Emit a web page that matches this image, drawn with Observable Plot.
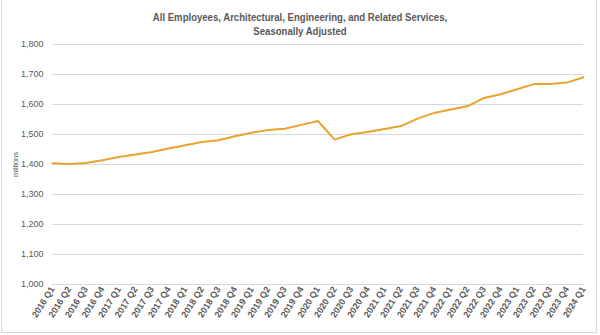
<!DOCTYPE html>
<html><head><meta charset="utf-8">
<script src="https://cdn.jsdelivr.net/npm/d3@7"></script>
<script src="https://cdn.jsdelivr.net/npm/@observablehq/plot@0.6"></script>
<style>
body{margin:0;background:#fff;}
#wrap{position:relative;width:600px;height:335px;overflow:hidden;background:#fff;}
#frame{position:absolute;left:1px;top:-1px;width:596px;height:334px;border:1px solid #d9d9d9;box-sizing:border-box;pointer-events:none;}
#title{position:absolute;top:10px;left:0;width:600px;text-align:center;font:bold 11px "Liberation Sans",Arial,sans-serif;color:#595959;line-height:14px;transform:scaleX(0.87);transform-origin:300px 0;}
#chart{position:absolute;left:0;top:0;}
</style></head>
<body>
<div id="wrap">
  <div id="chart"></div>
  <div id="title">All Employees, Architectural, Engineering, and Related Services,<br>Seasonally Adjusted</div>
  <div id="frame"></div>
</div>
<script>
const categories = [
  "2016 Q1","2016 Q2","2016 Q3","2016 Q4",
  "2017 Q1","2017 Q2","2017 Q3","2017 Q4",
  "2018 Q1","2018 Q2","2018 Q3","2018 Q4",
  "2019 Q1","2019 Q2","2019 Q3","2019 Q4",
  "2020 Q1","2020 Q2","2020 Q3","2020 Q4",
  "2021 Q1","2021 Q2","2021 Q3","2021 Q4",
  "2022 Q1","2022 Q2","2022 Q3","2022 Q4",
  "2023 Q1","2023 Q2","2023 Q3","2023 Q4",
  "2024 Q1"
];
const employees = [
  1404,1402,1405,1414,
  1425,1433,1442,1453,
  1464,1475,1481,1494,
  1506,1515,1519,1532,
  1545,1483,1501,1508,
  1518,1528,1553,1572,
  1583,1594,1622,1634,
  1651,1668,1668,1673,
  1691
];
const yTicks = [1000,1100,1200,1300,1400,1500,1600,1700,1800];
const yLabel = "millions";

const data = categories.map((c, i) => ({index: i, quarter: c, value: employees[i]}));
const font = '"Liberation Sans",Arial,sans-serif';

const chart = Plot.plot({
  width: 600,
  height: 335,
  marginLeft: 52,
  marginRight: 17,
  marginTop: 44,
  marginBottom: 51,
  style: {background: "transparent", fontFamily: font, color: "#595959"},
  x: {type: "linear", domain: [0, categories.length - 1]},
  y: {domain: [1000, 1800]},
  marks: [
    Plot.gridY(yTicks, {stroke: "#d9d9d9", strokeOpacity: 1, strokeWidth: 1}),
    Plot.axisY(yTicks, {tickSize: 0, tickPadding: 9, tickFormat: d3.format(","), label: null, fontSize: 9, fill: "#595959"}),
    Plot.axisX(d3.range(categories.length), {tickSize: 0, tickPadding: 3, tickRotate: -58, tickFormat: i => categories[i], label: null, fontSize: 9, fontWeight: "bold", fill: "#595959"}),
    Plot.line(data, {x: "index", y: "value", stroke: "#E9A32F", strokeWidth: 2}),
    Plot.text([yLabel], {frameAnchor: "left", textAnchor: "middle", dx: -37, rotate: -90, fontSize: 7.5, fill: "#595959"})
  ]
});
document.getElementById("chart").appendChild(chart);
</script>
</body></html>
